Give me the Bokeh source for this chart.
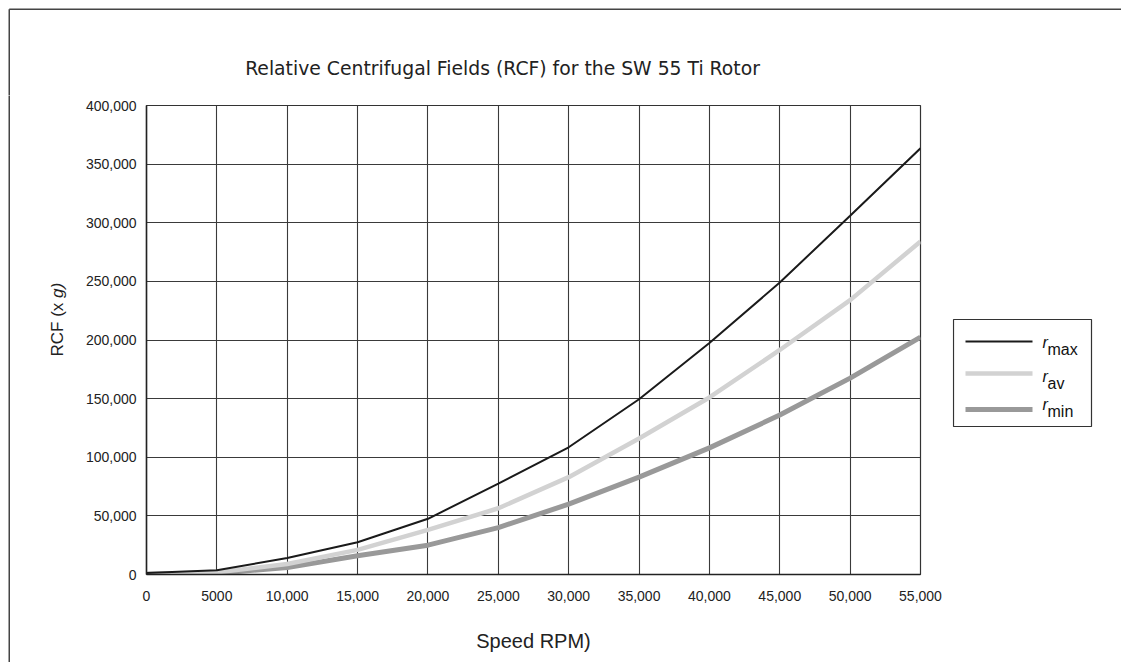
import math
from bokeh.plotting import figure
from bokeh.layouts import column, row
from bokeh.models import Range1d, FixedTicker
from bokeh.core.properties import value
from bokeh.embed import file_html
from bokeh.resources import INLINE

# ---- data ----
speed = [0, 5000, 10000, 15000, 20000, 25000, 30000, 35000, 40000, 45000, 50000, 55000]
r_max = [1200, 3600, 14000, 27500, 47500, 77500, 108500, 149500, 197500, 249000, 306000, 363500]
r_av = [400, 1800, 9000, 21000, 38000, 56500, 83000, 116000, 151000, 191500, 234000, 284000]
r_min = [200, 1000, 6000, 16000, 25000, 40000, 60000, 83000, 108000, 136000, 167500, 202500]

x_ticks = [0, 5000, 10000, 15000, 20000, 25000, 30000, 35000, 40000, 45000, 50000, 55000]
x_tick_labels = ["0", "5000", "10,000", "15,000", "20,000", "25,000", "30,000",
                 "35,000", "40,000", "45,000", "50,000", "55,000"]
y_ticks = [0, 50000, 100000, 150000, 200000, 250000, 300000, 350000, 400000]
y_tick_labels = ["0", "50,000", "100,000", "150,000", "200,000", "250,000",
                 "300,000", "350,000", "400,000"]

title_text = "Relative Centrifugal Fields (RCF) for the SW 55 Ti Rotor"
x_label = "Speed RPM)"
y_label_parts = ["RCF (x ", "g)"]
series_sub = ["max", "av", "min"]
series_color = ["#1a1a1a", "#d2d2d2", "#999999"]
series_width = [2, 4.5, 5]

# ---- page geometry (pixels) ----
W, H = 1121, 662
TOP_H = 95                 # strip with title and top border
LEFT_W = 75                # strip with y label and left border
LEG_X = 952                # where the legend strip starts
FL, FR, FT, FB = 146, 920, 105, 574   # plot frame on the page
BORDER = 8.75
BORDER_COLOR = "#444444"
TEXT_COLOR = "#222222"


def deco_fig(w, h):
    f = figure(width=w, height=h, output_backend="svg", toolbar_location=None,
               x_range=Range1d(0, w), y_range=Range1d(0, h),
               x_axis_type=None, y_axis_type=None, min_border=0)
    f.grid.visible = False
    f.outline_line_color = None
    f.background_fill_color = "white"
    f.border_fill_color = "white"
    return f


# ---- top strip: border + title ----
top = deco_fig(W, TOP_H)
top.segment(x0=[BORDER, BORDER], y0=[TOP_H - BORDER, TOP_H - BORDER],
            x1=[W + 5, BORDER], y1=[TOP_H - BORDER, -5],
            line_color=BORDER_COLOR, line_width=1.5)
top.text(x=[502], y=[TOP_H - 68], text=[title_text],
         text_font=value("DejaVu Sans"), text_font_size="18.8px",
         text_color=TEXT_COLOR, text_align="center", text_baseline="middle")

PH = H - TOP_H

# ---- left strip: border + y label ----
left = deco_fig(LEFT_W, PH)
left.segment(x0=[BORDER], y0=[PH + 5], x1=[BORDER], y1=[-5],
             line_color=BORDER_COLOR, line_width=1.5)
left.text(x=[57], y=[H - 356], text=[y_label_parts[0]], angle=math.pi / 2,
          text_font=value("Liberation Sans"), text_font_size="17px",
          text_color=TEXT_COLOR, text_align="left", text_baseline="middle")
left.text(x=[57], y=[H - 297.5], text=[y_label_parts[1]], angle=math.pi / 2,
          text_font=value("Liberation Sans"), text_font_size="17px",
          text_font_style="italic",
          text_color=TEXT_COLOR, text_align="left", text_baseline="middle")

# ---- main plot ----
MW = LEG_X - LEFT_W
p = figure(width=MW, height=PH, output_backend="svg", toolbar_location=None,
           x_range=Range1d(0, 55000), y_range=Range1d(0, 400000),
           min_border_left=FL - LEFT_W, min_border_right=LEG_X - FR,
           min_border_top=FT - TOP_H, min_border_bottom=H - FB)
p.background_fill_color = "white"
p.border_fill_color = "white"
p.outline_line_color = "#333333"
p.outline_line_width = 1.2

for ax in (p.xaxis[0], p.yaxis[0]):
    ax.major_label_text_font = "Liberation Sans"
    ax.major_label_text_font_size = "14px"
    ax.major_label_text_color = TEXT_COLOR
    ax.major_tick_in = 0
    ax.major_tick_out = 0
    ax.minor_tick_in = 0
    ax.minor_tick_out = 0
    ax.axis_line_color = "#222222"
    ax.axis_line_width = 1.5
    ax.axis_label_text_font = "Liberation Sans"
    ax.axis_label_text_font_style = "normal"
    ax.axis_label_text_color = TEXT_COLOR

p.xaxis[0].ticker = FixedTicker(ticks=x_ticks)
p.xaxis[0].major_label_overrides = dict(zip(x_ticks, x_tick_labels))
p.xaxis[0].major_label_standoff = 16
p.xaxis[0].axis_label = x_label
p.xaxis[0].axis_label_text_font_size = "20px"
p.xaxis[0].axis_label_standoff = 26
p.yaxis[0].ticker = FixedTicker(ticks=y_ticks)
p.yaxis[0].major_label_overrides = dict(zip(y_ticks, y_tick_labels))
p.yaxis[0].major_label_standoff = 10

p.xgrid[0].ticker = FixedTicker(ticks=x_ticks)
p.ygrid[0].ticker = FixedTicker(ticks=y_ticks)
for g in (p.xgrid[0], p.ygrid[0]):
    g.grid_line_color = "#3a3a3a"
    g.grid_line_width = 1.1

p.line(speed, r_min, line_color=series_color[2], line_width=series_width[2])
p.line(speed, r_av, line_color=series_color[1], line_width=series_width[1])
p.line(speed, r_max, line_color=series_color[0], line_width=series_width[0])

# ---- legend strip (right of the plot) ----
LW = W - LEG_X
leg = deco_fig(LW, PH)
box_l, box_r, box_t, box_b = 953 - LEG_X, 1091 - LEG_X, H - 319, H - 426
leg.quad(left=[box_l], right=[box_r], top=[box_t], bottom=[box_b],
         fill_color="white", line_color="#333333", line_width=1.2)
row_y = [341, 373, 409]
base_y = [342, 376, 404]
leg.segment(x0=[965 - LEG_X] * 3, x1=[1032 - LEG_X] * 3,
            y0=[H - v for v in row_y], y1=[H - v for v in row_y],
            line_color=series_color, line_width=series_width)
leg.text(x=[1042 - LEG_X] * 3, y=[H - v for v in base_y], text=["r"] * 3,
         text_font=value("Liberation Sans"), text_font_style="italic",
         text_font_size="16px", text_color="#111111", text_baseline="alphabetic")
leg.text(x=[1047 - LEG_X] * 3, y=[H - v - 7 for v in base_y], text=series_sub,
         text_font=value("Liberation Sans"), text_font_size="16px",
         text_color="#111111", text_baseline="alphabetic")

layout = column(top, row(column(left), p, column(leg), spacing=0), spacing=0)
open("out.html", "w").write(file_html(layout, INLINE))
